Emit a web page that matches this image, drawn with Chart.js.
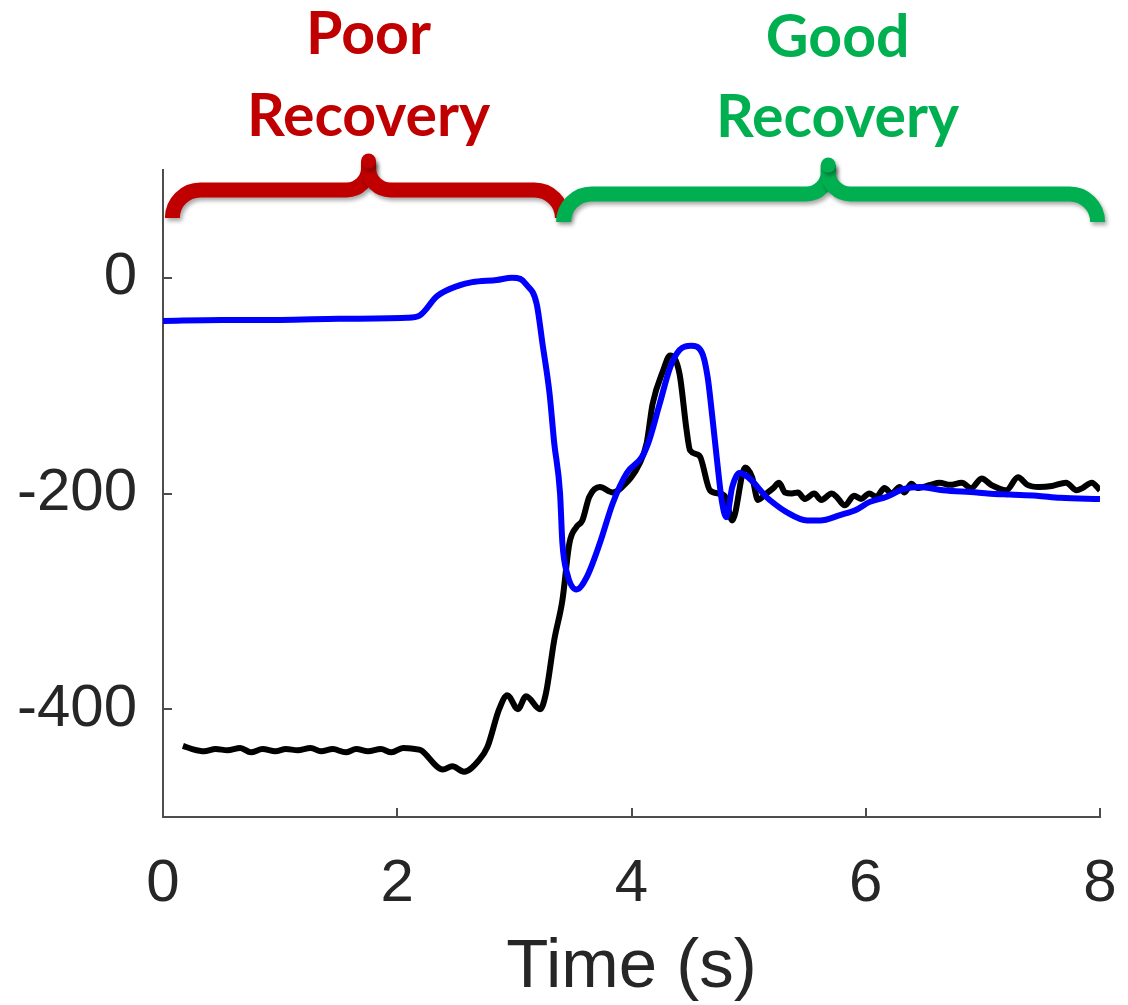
<!DOCTYPE html>
<html>
<head>
<meta charset="utf-8">
<script src="https://cdn.jsdelivr.net/npm/chart.js@4"></script>
<style>
  html, body { margin: 0; padding: 0; background: #ffffff; }
  #wrap { width: 1128px; height: 1005px; position: relative; }
</style>
</head>
<body>
<div id="wrap"><canvas id="chart"></canvas></div>
<script>
// Blue trace: time (s) and value
const blueTime = [0.00, 0.50, 1.00, 1.50, 2.08, 2.19, 2.34, 2.53, 2.64, 2.85, 2.98, 3.05, 3.10, 3.19, 3.24, 3.30,
  3.34, 3.39, 3.41, 3.45, 3.53, 3.62, 3.73, 3.84, 3.96, 4.09, 4.15, 4.24, 4.33, 4.41, 4.51, 4.60,
  4.65, 4.69, 4.73, 4.77, 4.81, 4.86, 4.92, 5.18, 5.32, 5.50, 5.61, 5.78, 5.92, 6.03, 6.18, 6.32,
  6.46, 6.66, 6.95, 7.04, 7.23, 7.46, 7.66, 8.00];
const blueValues = [-40, -39, -39, -38, -37, -35, -17, -7, -4, -2, 0, -1, -6, -24, -61, -107,
  -153, -200, -246, -274, -289, -277, -246, -209, -181, -166, -151, -117, -83, -67, -63, -69,
  -92, -129, -169, -206, -222, -194, -181, -206, -217, -225, -225, -220, -215, -208, -203, -196,
  -194, -197, -199, -200, -201, -202, -204, -205];

// Black trace: time (s) and value
const blackTime = [0.17, 0.25, 0.35, 0.45, 0.55, 0.66, 0.75, 0.85, 0.96, 1.05, 1.15, 1.26, 1.35, 1.45, 1.56, 1.65,
  1.75, 1.86, 1.95, 2.05, 2.15, 2.20, 2.39, 2.47, 2.57, 2.70, 2.77, 2.87, 2.94, 3.03, 3.10, 3.22,
  3.27, 3.34, 3.41, 3.47, 3.53, 3.58, 3.64, 3.73, 3.84, 3.92, 4.07, 4.13, 4.18, 4.27, 4.33, 4.41,
  4.47, 4.50, 4.58, 4.67, 4.75, 4.80, 4.86, 4.97, 5.03, 5.08, 5.14, 5.21, 5.26, 5.31, 5.37, 5.42,
  5.48, 5.56, 5.62, 5.71, 5.75, 5.82, 5.90, 5.96, 6.03, 6.09, 6.16, 6.22, 6.29, 6.33, 6.39, 6.44,
  6.55, 6.63, 6.72, 6.82, 6.90, 6.99, 7.07, 7.13, 7.20, 7.30, 7.38, 7.48, 7.59, 7.71, 7.80, 7.85,
  7.93, 8.00];
const blackValues = [-434, -437, -439, -437, -438, -436, -440, -437, -439, -437, -438, -436, -439, -437, -440, -437,
  -439, -437, -440, -436, -437, -438, -456, -453, -458, -447, -435, -400, -387, -400, -388, -400,
  -385, -336, -299, -246, -231, -225, -203, -194, -199, -194, -172, -153, -117, -86, -72, -89,
  -141, -160, -165, -197, -200, -203, -225, -176, -185, -206, -201, -195, -190, -199, -200, -199,
  -205, -200, -206, -200, -203, -211, -202, -205, -200, -203, -195, -200, -194, -199, -191, -195,
  -192, -190, -192, -190, -195, -186, -192, -195, -197, -185, -192, -194, -193, -190, -197, -195,
  -190, -197];

// Axis ticks
const xTickValues = [0, 2, 4, 6, 8];
const yTickValues = [-400, -200, 0];

// Recovery phases shown by braces above the plot
const phaseLines = [['Poor', 'Recovery'], ['Good', 'Recovery']];
const phaseStart = [0.08, 3.42];
const phaseEnd = [3.41, 7.98];
const phasePeak = [1.755, 5.68];
const phaseLabelAt = [1.755, 5.76];
const phaseColors = ['#C00000', '#00B050'];

const AXIS_FONT = '"Liberation Sans", Arial, Helvetica, sans-serif';
const INK = '#262626';

function toPoints(ts, vs) {
  return ts.map((t, i) => ({ x: t, y: vs[i] }));
}

// Curly brace: two mirrored halves meeting at a rounded peak
function drawBrace(ctx, xL, xR, xM, yBar, yTip, r, rc, width) {
  ctx.lineWidth = width;
  ctx.lineCap = 'butt';
  ctx.lineJoin = 'round';
  ctx.beginPath();
  ctx.moveTo(xL, yBar + r);
  ctx.arc(xL + r, yBar + r, r, Math.PI, 1.5 * Math.PI, false);
  ctx.lineTo(xM - rc, yBar);
  ctx.arc(xM - rc, yBar - rc, rc, 0.5 * Math.PI, 0, true);
  ctx.lineTo(xM, yTip);
  ctx.stroke();
  ctx.beginPath();
  ctx.moveTo(xR, yBar + r);
  ctx.arc(xR - r, yBar + r, r, 0, 1.5 * Math.PI, true);
  ctx.lineTo(xM + rc, yBar);
  ctx.arc(xM + rc, yBar - rc, rc, 0.5 * Math.PI, Math.PI, false);
  ctx.lineTo(xM, yTip);
  ctx.stroke();
  ctx.beginPath();
  ctx.arc(xM, yTip, width / 2, 0, 2 * Math.PI);
  ctx.fill();
}

const phaseBraces = {
  id: 'phaseBraces',
  afterDraw(chart) {
    const { ctx, chartArea, scales } = chart;
    const x = scales.x;
    const top = chartArea.top;
    const barY = [top + 20, top + 24];
    const tipY = [top - 9, top - 5];
    const textBase = [[54, 136], [57, 137]];
    phaseLines.forEach((lines, i) => {
      ctx.save();
      ctx.strokeStyle = phaseColors[i];
      ctx.fillStyle = phaseColors[i];
      ctx.shadowColor = 'rgba(0,0,0,0.35)';
      ctx.shadowBlur = 4;
      ctx.shadowOffsetX = 2;
      ctx.shadowOffsetY = 3;
      drawBrace(ctx, x.getPixelForValue(phaseStart[i]), x.getPixelForValue(phaseEnd[i]),
        x.getPixelForValue(phasePeak[i]), barY[i], tipY[i], 28, 22, 15);
      ctx.restore();

      ctx.save();
      ctx.fillStyle = phaseColors[i];
      ctx.font = 'bold 59px Lato, "Open Sans", sans-serif';
      ctx.textAlign = 'center';
      ctx.textBaseline = 'alphabetic';
      const cx = x.getPixelForValue(phaseLabelAt[i]);
      lines.forEach((txt, j) => ctx.fillText(txt, cx, textBase[i][j]));
      ctx.restore();
    });
  }
};

// Inward tick marks on the left and bottom axes
const inwardTicks = {
  id: 'inwardTicks',
  afterDraw(chart) {
    const { ctx, chartArea, scales } = chart;
    ctx.save();
    ctx.strokeStyle = '#4d4d4d';
    ctx.lineWidth = 2;
    ctx.beginPath();
    yTickValues.forEach(v => {
      const py = Math.round(scales.y.getPixelForValue(v));
      ctx.moveTo(chartArea.left, py);
      ctx.lineTo(chartArea.left + 9, py);
    });
    xTickValues.forEach(v => {
      const px = Math.round(scales.x.getPixelForValue(v));
      ctx.moveTo(px, chartArea.bottom);
      ctx.lineTo(px, chartArea.bottom - 9);
    });
    ctx.stroke();
    ctx.restore();
  }
};

new Chart(document.getElementById('chart'), {
  type: 'line',
  data: {
    datasets: [
      {
        data: toPoints(blueTime, blueValues),
        borderColor: '#0000FF',
        borderWidth: 6,
        pointRadius: 0,
        cubicInterpolationMode: 'monotone',
        fill: false
      },
      {
        data: toPoints(blackTime, blackValues),
        borderColor: '#000000',
        borderWidth: 6,
        pointRadius: 0,
        cubicInterpolationMode: 'monotone',
        fill: false
      }
    ]
  },
  options: {
    responsive: true,
    maintainAspectRatio: false,
    animation: false,
    events: [],
    layout: { padding: { top: 170, right: 28, left: 0, bottom: 0 } },
    plugins: {
      legend: { display: false },
      tooltip: { enabled: false },
      title: { display: false }
    },
    scales: {
      x: {
        type: 'linear',
        min: 0,
        max: 8,
        afterBuildTicks: s => { s.ticks = xTickValues.map(v => ({ value: v })); },
        afterFit: s => {
          s.height = 188;
          s.paddingLeft = 0;
          s.paddingRight = 0;
        },
        grid: { display: false, drawTicks: false },
        border: { display: true, color: '#4d4d4d', width: 2 },
        ticks: {
          padding: 31,
          maxRotation: 0,
          autoSkip: false,
          color: INK,
          font: { family: AXIS_FONT, size: 60 }
        },
        title: {
          display: true,
          text: 'Time (s)',
          color: INK,
          font: { family: AXIS_FONT, size: 69 },
          padding: { top: 0, bottom: -4 }
        }
      },
      y: {
        type: 'linear',
        min: -500,
        max: 100,
        afterBuildTicks: s => { s.ticks = yTickValues.map(v => ({ value: v })); },
        afterFit: s => {
          s.width = 163;
          s.paddingTop = 0;
          s.paddingBottom = 0;
        },
        grid: { display: false, drawTicks: false },
        border: { display: true, color: '#4d4d4d', width: 2 },
        ticks: {
          padding: 26,
          color: INK,
          font: { family: AXIS_FONT, size: 60 }
        }
      }
    }
  },
  plugins: [phaseBraces, inwardTicks]
});
</script>
</body>
</html>
